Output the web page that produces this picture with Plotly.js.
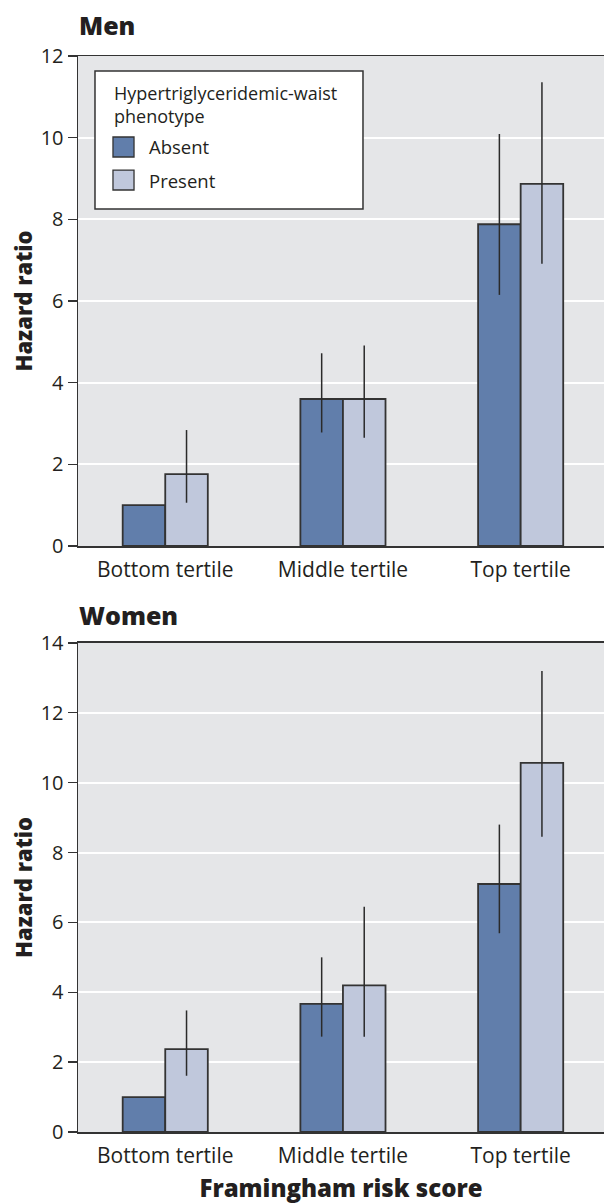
<!DOCTYPE html>
<html>
<head>
<meta charset="utf-8">
<script src="https://cdn.plot.ly/plotly-3.0.1.min.js"></script>
<style>
html,body{margin:0;padding:0;background:#fff;}
#chart{width:604px;height:1204px;}
</style>
</head>
<body>
<div id="chart"></div>
<script>
// ---- data ----
const categories = ['Bottom tertile', 'Middle tertile', 'Top tertile'];
const seriesNames = ['Absent', 'Present'];
const legendTitleLines = ['Hypertriglyceridemic-waist', 'phenotype'];
const panelTitles = ['Men', 'Women'];

const menAbsent      = [1.00, 3.60, 7.88];
const menAbsentLow   = [1.00, 2.78, 6.15];
const menAbsentHigh  = [1.00, 4.72, 10.09];
const menPresent     = [1.76, 3.60, 8.87];
const menPresentLow  = [1.06, 2.65, 6.91];
const menPresentHigh = [2.84, 4.91, 11.36];

const womenAbsent      = [1.00, 3.67, 7.10];
const womenAbsentLow   = [1.00, 2.73, 5.69];
const womenAbsentHigh  = [1.00, 5.00, 8.80];
const womenPresent     = [2.37, 4.20, 10.57];
const womenPresentLow  = [1.61, 2.73, 8.45];
const womenPresentHigh = [3.48, 6.45, 13.20];

const menTicks = [0, 2, 4, 6, 8, 10, 12];
const womenTicks = [0, 2, 4, 6, 8, 10, 12, 14];

// ---- styles ----
const colors = ['#617eab', '#c0c8dc'];
const ink = '#231f20';
const FONT = '"Open Sans", "Noto Sans", sans-serif';

function errBar(vals, lo, hi) {
  return {
    type: 'data', symmetric: false,
    array: hi.map((h, i) => h - vals[i]),
    arrayminus: lo.map((l, i) => vals[i] - l),
    color: '#2a2a2a', thickness: 1.5, width: 0
  };
}
function bar(vals, lo, hi, idx, xa, ya) {
  return {
    type: 'bar', x: categories, y: vals, name: seriesNames[idx],
    xaxis: xa, yaxis: ya, showlegend: false,
    marker: {color: colors[idx], line: {color: '#333333', width: 1.8}},
    error_y: errBar(vals, lo, hi), hoverinfo: 'skip'
  };
}

const traces = [
  bar(menAbsent, menAbsentLow, menAbsentHigh, 0, 'x', 'y'),
  bar(menPresent, menPresentLow, menPresentHigh, 1, 'x', 'y'),
  bar(womenAbsent, womenAbsentLow, womenAbsentHigh, 0, 'x2', 'y2'),
  bar(womenPresent, womenPresentLow, womenPresentHigh, 1, 'x2', 'y2')
];

const xCommon = {
  type: 'category', range: [-0.491, 2.469], domain: [0, 1],
  showline: true, linecolor: '#333333', linewidth: 1.5, mirror: true,
  ticks: '', showgrid: false, zeroline: false,
  tickfont: {family: FONT, size: 21, color: ink}, ticklabelstandoff: 4
};
const yCommon = {
  showline: true, linecolor: '#333333', linewidth: 1.5, mirror: false,
  ticks: 'outside', ticklen: 9, tickwidth: 1.3, tickcolor: '#333333',
  showgrid: true, gridcolor: '#ffffff', gridwidth: 2, zeroline: false,
  tickfont: {family: FONT, size: 20, color: ink}, ticklabelstandoff: 0,
  tickmode: 'array', fixedrange: true,
  title: {text: 'Hazard ratio', font: {family: FONT, size: 22, color: ink, weight: 800}, standoff: 2}
};

const layout = {
  width: 604, height: 1204,
  margin: {l: 78, r: 0, t: 56, b: 72},
  paper_bgcolor: '#ffffff', plot_bgcolor: '#e5e6e8',
  barmode: 'group', bargap: 0.521, bargroupgap: 0,
  showlegend: false,
  font: {family: FONT, color: ink},
  xaxis: Object.assign({}, xCommon, {anchor: 'y'}),
  xaxis2: Object.assign({}, xCommon, {anchor: 'y2',
    title: {text: 'Framingham risk score', font: {family: FONT, size: 24, color: ink, weight: 800}, standoff: 17}}),
  yaxis: Object.assign({}, yCommon, {domain: [0.5446, 1], range: [0, 12], tickvals: menTicks, anchor: 'x'}),
  yaxis2: Object.assign({}, yCommon, {domain: [0, 0.4545], range: [0, 14], tickvals: womenTicks, anchor: 'x2'}),
  annotations: [
    {text: panelTitles[0], xref: 'paper', yref: 'paper', x: -0.002, y: 1.0288,
     xanchor: 'left', yanchor: 'middle', showarrow: false, font: {family: FONT, size: 25, color: ink, weight: 800}},
    {text: panelTitles[1], xref: 'paper', yref: 'paper', x: -0.002, y: 0.4805,
     xanchor: 'left', yanchor: 'middle', showarrow: false, font: {family: FONT, size: 25, color: ink, weight: 800}},
    {text: legendTitleLines.join('<br>'), xref: 'x domain', yref: 'y domain', x: 0.0646, y: 0.901,
     xanchor: 'left', yanchor: 'middle', align: 'left', showarrow: false, font: {family: FONT, size: 18, color: ink}},
    {text: seriesNames[0], xref: 'x domain', yref: 'y domain', x: 0.1312, y: 0.8143,
     xanchor: 'left', yanchor: 'middle', showarrow: false, font: {family: FONT, size: 18.5, color: ink}},
    {text: seriesNames[1], xref: 'x domain', yref: 'y domain', x: 0.1312, y: 0.7469,
     xanchor: 'left', yanchor: 'middle', showarrow: false, font: {family: FONT, size: 18.5, color: ink}}
  ],
  shapes: [
    {type: 'rect', xref: 'x domain', yref: 'y domain', x0: 0.0323, x1: 0.5418, y0: 0.6878, y1: 0.9694,
     fillcolor: '#ffffff', line: {color: '#333333', width: 1.5}, layer: 'above'},
    {type: 'rect', xref: 'x domain', yref: 'y domain', x0: 0.0665, x1: 0.1065, y0: 0.7939, y1: 0.8347,
     fillcolor: colors[0], line: {color: '#333333', width: 1.3}, layer: 'above'},
    {type: 'rect', xref: 'x domain', yref: 'y domain', x0: 0.0665, x1: 0.1065, y0: 0.7265, y1: 0.7673,
     fillcolor: colors[1], line: {color: '#333333', width: 1.3}, layer: 'above'}
  ]
};

Plotly.newPlot('chart', traces, layout, {displayModeBar: false, staticPlot: true});
</script>
</body>
</html>
